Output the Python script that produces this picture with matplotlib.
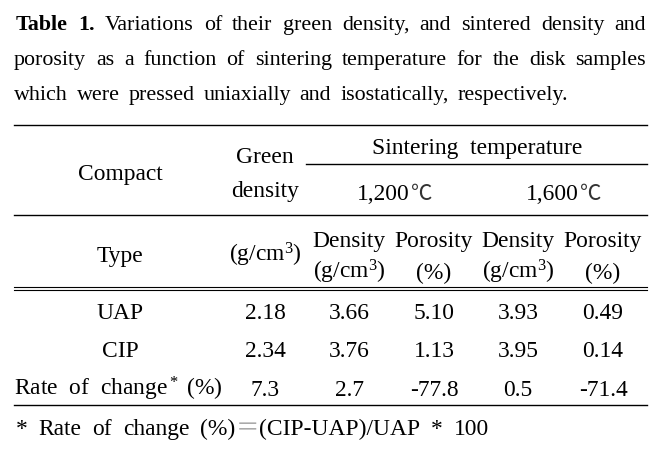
import matplotlib
matplotlib.use("Agg")
import matplotlib.pyplot as plt

plt.rcParams['font.family'] = ['Liberation Serif', 'DejaVu Serif', 'Noto Sans CJK KR']
plt.rcParams['mathtext.fontset'] = 'custom'
plt.rcParams['mathtext.rm'] = 'Liberation Serif'
plt.rcParams['mathtext.it'] = 'Liberation Serif:italic'
plt.rcParams['mathtext.bf'] = 'Liberation Serif:bold'

# ---- data ----
title_lines = [
    "Variations of their green density, and sintered density and",
    "porosity as a function of sintering temperature for the disk samples",
    "which were pressed uniaxially and isostatically, respectively.",
]
compact_types = ["UAP", "CIP"]
green_density = [2.18, 2.34]
density_1200 = [3.66, 3.76]
porosity_1200 = [5.10, 1.13]
density_1600 = [3.93, 3.95]
porosity_1600 = [0.49, 0.14]
rate_of_change = [7.3, 2.7, -77.8, 0.5, -71.4]
temperatures = ["1,200", "1,600"]

W, H = 660, 452
fig = plt.figure(figsize=(W / 100, H / 100), dpi=100)
ax = fig.add_axes([0, 0, 1, 1])
ax.set_xlim(0, W)
ax.set_ylim(H, 0)
ax.axis('off')
renderer = fig.canvas.get_renderer()

TFS = 15.8
FS = 16.9
CJK = ['Noto Sans CJK KR']


def justify(words, x0, x1, y, fs, weights=None):
    """words: list of words; each word is a str or a list of (text, color) pieces."""
    weights = weights or ['normal'] * len(words)
    groups = []
    for w, wt in zip(words, weights):
        pieces = [(w, 'black')] if isinstance(w, str) else w
        ts = []
        for s, c in pieces:
            kw = {}
            if s == "\uff1d":
                kw['family'] = CJK
            ts.append(ax.text(0, y, s, fontsize=fs, fontweight=wt, color=c,
                              va='baseline', ha='left', **kw))
        groups.append(ts)
    widths = [[t.get_window_extent(renderer).width for t in g] for g in groups]
    total = sum(sum(w) for w in widths)
    gap = (x1 - x0 - total) / (len(groups) - 1)
    x = x0
    for g, ws in zip(groups, widths):
        for t, w in zip(g, ws):
            t.set_x(x)
            x += w
        x += gap


# title
line1 = ["Table", "1."] + title_lines[0].split()
justify(line1, 16, 646, 30, TFS, ['bold', 'bold'] + ['normal'] * (len(line1) - 2))
justify(title_lines[1].split(), 14, 646, 65, TFS)
justify(title_lines[2].split(), 14, 568, 100, TFS)

# rules
LW = 1.0
ax.plot([14, 647], [126, 126], color='black', lw=LW)
ax.plot([306, 647], [165, 165], color='black', lw=LW)
ax.plot([14, 647], [216, 216], color='black', lw=LW)
ax.plot([14, 647], [288, 288], color='black', lw=0.8)
ax.plot([14, 647], [291, 291], color='black', lw=0.8)
ax.plot([14, 647], [406, 406], color='black', lw=LW)


def ctext(x, y, s, **kw):
    ax.text(x, y, s, fontsize=FS, ha='center', va='baseline', **kw)


col_x = [265, 349, 434, 518, 603]
row_label_x = 120

# header
ctext(row_label_x, 180, "Compact")
ctext(col_x[0], 163, "Green")
ctext(col_x[0], 197, "density")
ctext(477, 154, "Sintering  temperature")
for cx, temp in zip([410, 579], temperatures):
    ax.text(cx, 200, temp, fontsize=FS, ha='right', va='baseline')
    ax.text(cx + 1, 200, "\u2103", fontsize=FS - 1.5, ha='left', va='baseline',
            family=CJK, fontweight='light', color='#333333')
ctext(row_label_x, 262, "Type")
ctext(col_x[0], 262, "(g/cm$^3$)")
for cx, top, bot in [(col_x[1], "Density", "(g/cm$^3$)"), (col_x[2], "Porosity", "(%)"),
                     (col_x[3], "Density", "(g/cm$^3$)"), (col_x[4], "Porosity", "(%)")]:
    ctext(cx, 247, top)
    ctext(cx, 279, bot)

# body
row_y = [319, 357]
cols = [green_density, density_1200, porosity_1200, density_1600, porosity_1600]
for i, name in enumerate(compact_types):
    ctext(row_label_x, row_y[i], name)
    for cx, col in zip(col_x, cols):
        ctext(cx, row_y[i], f"{col[i]:.2f}")

ctext(118, 396, "Rate  of  change$^*$ (%)")
for cx, v in zip(col_x, rate_of_change):
    ctext(cx, 396, f"{v:.1f}")

# footnote
footnote_words = ["*", "Rate", "of", "change",
                  [("(%)", 'black'), ("\uff1d", '#aaaaaa'), ("(CIP-UAP)/UAP", 'black')],
                  "*", "100"]
justify(footnote_words, 16, 489, 435, FS)

fig.savefig("out.png", dpi=100)
